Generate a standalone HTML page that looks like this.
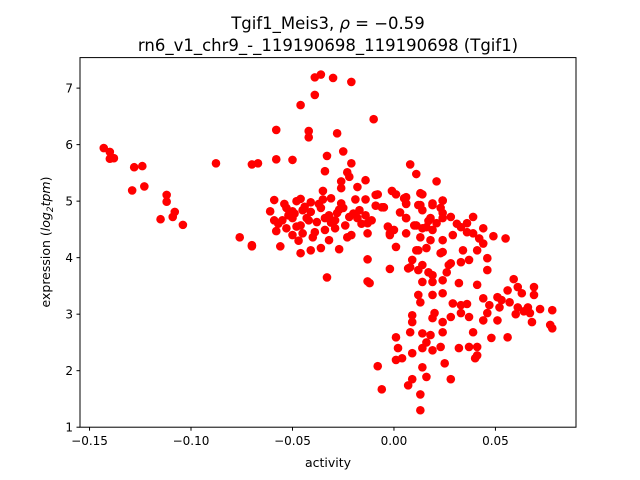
<!DOCTYPE html>
<html><head><meta charset="utf-8"><style>body{margin:0;background:#fff}svg{display:block}text{font-family:"DejaVu Sans","Liberation Sans",sans-serif;fill:#000}</style></head>
<body>
<svg id="chart" width="640" height="480">
<rect width="640" height="480" fill="#fff"/>
<text x="328" y="29" font-size="16.5" text-anchor="middle">Tgif1_Meis3, <tspan font-style="italic">ρ</tspan> = −0.59</text>
<text x="328" y="51" font-size="16.5" text-anchor="middle">rn6_v1_chr9_-_119190698_119190698 (Tgif1)</text>
<g id="points"></g>
<g id="axes"></g>
<text x="328" y="467" font-size="12.5" text-anchor="middle">activity</text>
<text transform="translate(50,242) rotate(-90)" font-size="12.5" text-anchor="middle">expression (<tspan font-style="italic">log</tspan><tspan font-size="9" dy="3" font-style="italic">2</tspan><tspan dy="-3" font-style="italic">tpm</tspan>)</text>
</svg>
<script>
const xTicks=[-0.15,-0.10,-0.05,0.00,0.05];
const xTickLabels=["−0.15","−0.10","−0.05","0.00","0.05"];
const yTicks=[1,2,3,4,5,6,7];
const yTickLabels=["1","2","3","4","5","6","7"];
const xs=[-0.143,-0.140,-0.140,-0.138,-0.128,-0.124,-0.129,-0.123,-0.112,-0.112,-0.108,-0.109,-0.115,-0.104,-0.0877,-0.070,-0.067,-0.076,-0.070,-0.058,-0.058,-0.046,-0.039,-0.039,-0.036,-0.042,-0.042,-0.050,-0.030,-0.021,-0.010,-0.028,
-0.033,-0.025,-0.034,-0.021,-0.023,-0.022,-0.026,-0.014,-0.018,-0.026,-0.035,0.008,0.011,0.021,-0.008,-0.001,0.001,0.014,-0.059,-0.048,-0.046,-0.041,-0.035,-0.031,-0.026,-0.019,-0.014,-0.005,0.005,0.006,0.012,0.019,0.024,
-0.061,-0.053,-0.050,-0.045,-0.041,-0.036,-0.032,-0.028,-0.022,-0.017,-0.014,-0.011,-0.006,0.006,0.014,0.018,0.024,
-0.059,-0.055,-0.050,-0.046,-0.042,-0.038,-0.034,-0.029,-0.024,-0.018,-0.013,0.010,0.016,0.021,
-0.058,-0.053,-0.050,-0.045,-0.040,-0.034,-0.032,-0.029,-0.023,-0.013,-0.002,0.000,0.006,0.013,0.018,0.024,
-0.056,-0.046,-0.041,-0.036,-0.027,0.001,0.011,0.016,0.024,-0.013,-0.002,0.008,-0.033,-0.013,-0.070,
-0.009,0.006,0.006,0.013,-0.005,0.013,0.019,0.024,0.023,0.006,0.011,0.014,0.019,0.024,0.028,0.033,0.036,0.039,0.044,0.049,0.055,-0.002,0.029,0.039,0.042,
0.012,0.023,0.034,0.041,0.046,0.009,0.014,0.028,0.033,0.037,0.046,0.007,0.012,0.017,0.019,0.014,0.019,0.024,0.027,0.026,0.032,0.041,-0.012,
0.012,0.013,0.019,0.024,0.029,0.033,0.036,0.044,0.051,0.056,0.059,0.061,0.063,0.069,0.069,0.072,0.078,0.077,0.078,
0.047,0.052,0.057,0.061,0.066,0.067,0.068,0.046,0.051,0.056,0.048,0.044,0.037,0.039,0.033,0.028,0.024,0.019,0.020,0.009,0.009,0.008,0.024,0.014,0.018,0.016,0.023,0.019,0.014,0.009,0.004,0.001,0.001,0.002,0.025,0.014,0.040,0.041,0.037,0.041,0.032,0.028,0.016,0.009,0.007,0.013,0.013,-0.008,-0.006,
-0.052,-0.057,-0.048,-0.044,-0.039,-0.031,-0.027,-0.020,-0.016,-0.009,-0.047,-0.043,-0.037,-0.025,-0.054,-0.049,-0.021,-0.003,0.003,0.017,0.031,0.036,0.044,0.053,0.060,0.064];
const ys=[5.94,5.87,5.75,5.76,5.60,5.62,5.19,5.26,5.11,4.99,4.81,4.72,4.68,4.58,5.67,5.65,5.67,4.36,4.22,5.74,6.26,6.70,6.88,7.19,7.24,6.24,6.13,5.73,7.18,7.11,6.45,6.20,
5.80,5.88,5.53,5.67,5.51,5.43,5.35,5.37,5.25,5.23,5.18,5.65,5.48,5.35,5.12,5.18,5.12,5.12,5.02,5.00,5.04,4.98,5.03,5.05,4.96,5.03,5.03,4.89,5.05,4.96,4.93,4.96,5.01,
4.82,4.88,4.82,4.84,4.81,4.88,4.75,4.79,4.72,4.84,4.75,4.66,4.89,4.70,4.84,4.70,4.79,
4.66,4.66,4.70,4.57,4.66,4.63,4.70,4.66,4.57,4.70,4.61,4.57,4.54,4.61,
4.47,4.52,4.40,4.43,4.36,4.49,4.31,4.52,4.36,4.43,4.43,4.49,4.43,4.36,4.31,4.31,
4.20,4.08,4.13,4.17,4.15,4.19,4.13,4.17,4.10,3.97,3.80,3.83,3.65,3.58,4.20,
5.11,5.07,4.95,5.14,4.89,4.93,4.93,5.01,4.88,4.70,4.57,4.52,4.49,4.70,4.72,4.54,4.61,4.72,4.52,4.38,4.34,4.40,4.40,4.43,4.34,
4.13,4.08,4.13,4.13,3.99,3.96,3.87,3.90,3.92,3.96,3.78,3.81,3.78,3.74,3.69,3.57,3.57,3.60,3.87,3.74,3.55,3.52,3.55,
3.34,3.21,3.34,3.37,3.19,3.16,3.18,3.28,3.30,3.42,3.62,3.48,3.37,3.48,3.34,3.09,3.07,2.81,2.75,
3.16,3.12,3.21,3.12,3.12,3.02,2.86,3.02,2.89,2.59,2.58,2.89,2.95,2.68,3.02,2.95,2.86,2.93,3.02,2.98,2.86,2.68,2.68,2.66,2.63,2.50,2.42,2.36,2.40,2.31,2.22,2.19,2.59,2.40,2.13,2.06,2.22,2.27,2.42,2.42,2.40,1.85,1.89,1.85,1.74,1.58,1.30,2.08,1.67,
4.75,4.60,4.55,4.90,4.45,4.62,4.85,4.78,4.60,4.92,4.30,4.70,4.95,4.88,4.95,4.78,4.40,4.55,4.80,4.65,4.60,4.45,4.25,3.25,3.00,3.05];
const X0=80,X1=576,Y0=57.6,Y1=427.2,xmin=-0.1547,xmax=0.0897,ymin=1.0,ymax=7.54;
function sx(v){return X0+(v-xmin)/(xmax-xmin)*(X1-X0);}
function sy(v){return Y1-(v-ymin)/(ymax-ymin)*(Y1-Y0);}
const NS="http://www.w3.org/2000/svg";
const pg=document.getElementById('points');
for(let i=0;i<xs.length;i++){
 const c=document.createElementNS(NS,'circle');
 c.setAttribute('cx',sx(xs[i]));c.setAttribute('cy',sy(ys[i]));c.setAttribute('r',4.3);c.setAttribute('fill','#ff0000');
 
 
 pg.appendChild(c);
}
const ax=document.getElementById('axes');
const fr=document.createElementNS(NS,'rect');
fr.setAttribute('x',X0);fr.setAttribute('y',Y0);fr.setAttribute('width',X1-X0);fr.setAttribute('height',Y1-Y0);fr.setAttribute('fill','none');fr.setAttribute('stroke','#000');fr.setAttribute('stroke-width','1');


ax.appendChild(fr);
xTicks.forEach((t,i)=>{
 const x=sx(t);
 const l=document.createElementNS(NS,'line');
 l.setAttribute('x1',x);l.setAttribute('x2',x);l.setAttribute('y1',Y1);l.setAttribute('y2',Y1+3.5);l.setAttribute('stroke','#000');
 
 
 ax.appendChild(l);
 const tx=document.createElementNS(NS,'text');
 tx.setAttribute('x',x);tx.setAttribute('y',Y1+18);tx.setAttribute('font-size','12');tx.setAttribute('text-anchor','middle');tx.textContent=xTickLabels[i];
 
 
 ax.appendChild(tx);
});
yTicks.forEach((t,i)=>{
 const y=sy(t);
 const l=document.createElementNS(NS,'line');
 l.setAttribute('x1',X0-3.5);l.setAttribute('x2',X0);l.setAttribute('y1',y);l.setAttribute('y2',y);l.setAttribute('stroke','#000');
 
 
 ax.appendChild(l);
 const tx=document.createElementNS(NS,'text');
 tx.setAttribute('x',X0-7);tx.setAttribute('y',y+4.5);tx.setAttribute('font-size','12');tx.setAttribute('text-anchor','end');tx.textContent=yTickLabels[i];
 
 
 ax.appendChild(tx);
});
</script>
</body></html>
